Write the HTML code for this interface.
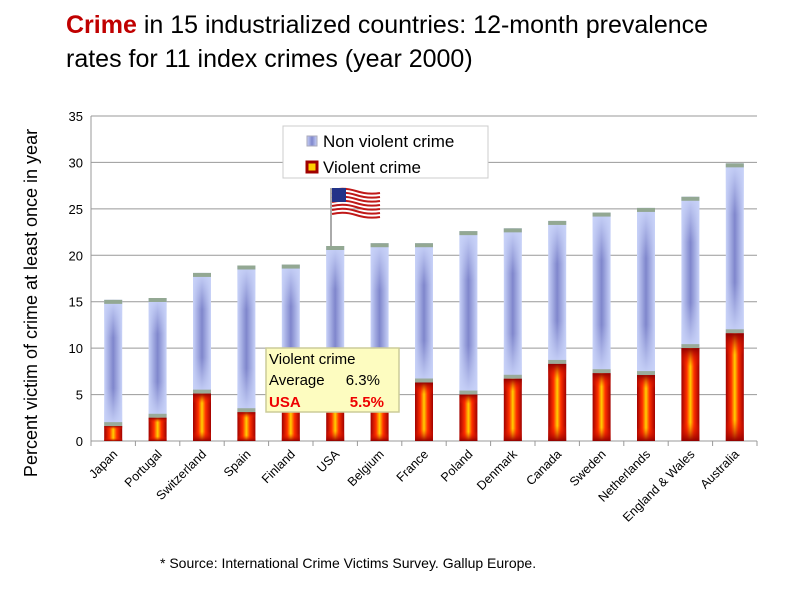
<!DOCTYPE html>
<html><head><meta charset="utf-8"><style>
body{margin:0;background:#fff;width:800px;height:599px;overflow:hidden;font-family:"Liberation Sans",sans-serif}
</style></head><body>
<svg width="800" height="599" xmlns="http://www.w3.org/2000/svg">
<defs>
<linearGradient id="nvH" x1="0" x2="1" y1="0" y2="0"><stop offset="0" stop-color="#c8d2f8"/><stop offset="0.5" stop-color="#7f86cc"/><stop offset="1" stop-color="#c8d2f8"/></linearGradient>
<linearGradient id="nvV" x1="0" x2="0" y1="0" y2="1"><stop offset="0" stop-color="#c8d2f8"/><stop offset="0.3" stop-color="#c8d2f8" stop-opacity="0"/><stop offset="0.7" stop-color="#c8d2f8" stop-opacity="0"/><stop offset="1" stop-color="#c8d2f8"/></linearGradient>
<linearGradient id="vH" x1="0" x2="1" y1="0" y2="0"><stop offset="0" stop-color="#a00000"/><stop offset="0.3" stop-color="#ff3000"/><stop offset="0.5" stop-color="#ffd000"/><stop offset="0.7" stop-color="#ff3000"/><stop offset="1" stop-color="#a00000"/></linearGradient>
<linearGradient id="vV" x1="0" x2="0" y1="0" y2="1"><stop offset="0" stop-color="#900000"/><stop offset="0.2" stop-color="#ff2000" stop-opacity="0"/><stop offset="0.8" stop-color="#ff2000" stop-opacity="0"/><stop offset="1" stop-color="#900000"/></linearGradient>
</defs>
<text x="66" y="33" font-family="Liberation Sans, sans-serif" font-size="25" fill="#000"><tspan fill="#c00000" font-weight="bold">Crime</tspan> in 15 industrialized countries: 12-month prevalence</text>
<text x="66" y="67" font-size="25" fill="#000">rates for 11 index crimes (year 2000)</text>
<g id="grid"></g>
<g id="bars"></g>
<g id="xlabels"></g>
<text transform="translate(37,303) rotate(-90)" text-anchor="middle" font-size="18">Percent victim of crime at least once in year</text>
<g>
<rect x="283" y="126" width="205" height="52" fill="#fff" stroke="#ccc"/>
<rect x="307" y="136" width="10" height="10" fill="url(#nvH)" stroke="#aab"/>
<text x="323" y="147" font-size="17">Non violent crime</text>
<rect x="307" y="162" width="10" height="10" fill="#ffd000" stroke="#a00000" stroke-width="3"/>
<text x="323" y="173" font-size="17">Violent crime</text>
</g>
<g>
<line x1="331" y1="188" x2="331" y2="246" stroke="#aaa" stroke-width="2"/>
<g id="stripes"></g>
<rect x="332" y="188" width="14" height="14" fill="#223388"/>
</g>
<g>
<rect x="266" y="348" width="133" height="64" fill="#fdfcc0" stroke="#cc9" stroke-width="1.5"/>
<text x="269" y="364" font-size="15">Violent crime</text>
<text x="269" y="385" font-size="15">Average</text><text x="380" y="385" font-size="15" text-anchor="end">6.3%</text>
<text x="269" y="407" font-size="15" font-weight="bold" fill="#e00">USA</text><text x="384" y="407" font-size="15" font-weight="bold" fill="#e00" text-anchor="end">5.5%</text>
</g>
<text x="160" y="568" font-size="14">* Source: International Crime Victims Survey. Gallup Europe.</text>
</svg>
<script>
const categories=["Japan","Portugal","Switzerland","Spain","Finland","USA","Belgium","France","Poland","Denmark","Canada","Sweden","Netherlands","England & Wales","Australia"];
const totalValues=[15.2,15.4,18.1,18.9,19.0,21.0,21.3,21.3,22.6,22.9,23.7,24.6,25.1,26.3,29.9];
const violentValues=[1.6,2.5,5.1,3.1,4.0,5.5,4.2,6.3,5.0,6.7,8.3,7.3,7.1,10.0,11.6];
const yTicks=[0,5,10,15,20,25,30,35];
const NS="http://www.w3.org/2000/svg";
const L=91,R=757,T=116,B=441,YMAX=35;
const band=(R-L)/categories.length;
const y=v=>B-v/YMAX*(B-T);
const xc=i=>L+band*(i+0.5);
function mk(tag,attrs,parent){const e=document.createElementNS(NS,tag);for(const k in attrs)e.setAttribute(k,attrs[k]);parent.appendChild(e);return e;}
const grid=document.getElementById('grid'),bars=document.getElementById('bars'),xl=document.getElementById('xlabels');
yTicks.forEach(t=>{
 const g=mk('line',{x1:L,x2:R,y1:y(t),y2:y(t),stroke:'#999','stroke-width':1},grid);
 
 
 const tx=mk('text',{x:L-8,y:y(t)+5,'text-anchor':'end','font-size':13},grid);
 tx.textContent=t;
 
 
});
mk('line',{x1:L,x2:L,y1:T,y2:B,stroke:'#999'},grid);
for(let i=0;i<=categories.length;i++)mk('line',{x1:L+band*i,x2:L+band*i,y1:B,y2:B+5,stroke:'#999'},grid);
const w=18;
categories.forEach((c,i)=>{
 const x=xc(i)-w/2;
 const g=mk('g',{},bars);
 
 
 const nv=[y(totalValues[i]),y(violentValues[i])];
 mk('rect',{x:x,y:nv[0],width:w,height:nv[1]-nv[0],fill:'url(#nvH)'},g);
 mk('rect',{x:x,y:nv[0],width:w,height:nv[1]-nv[0],fill:'url(#nvV)'},g);
 mk('rect',{x:x,y:nv[0],width:w,height:4,fill:'#93a893'},g);
 mk('rect',{x:x,y:nv[1]-4,width:w,height:4,fill:'#9aab9a'},g);
 mk('rect',{x:x,y:nv[1],width:w,height:B-nv[1],fill:'url(#vH)'},g);
 mk('rect',{x:x,y:nv[1],width:w,height:B-nv[1],fill:'url(#vV)'},g);
 const t=mk('text',{'text-anchor':'end','font-size':12.5,transform:`translate(${xc(i)+5},${B+14}) rotate(-45)`},xl);
 t.textContent=c;
 
 
});
const st=document.getElementById('stripes');
for(let k=0;k<7;k++){mk('path',{d:`M332 ${190+k*4} q12 -3 24 1 t24 2`,stroke:'#c01818','stroke-width':2,fill:'none'},st);}
</script>
</body></html>
